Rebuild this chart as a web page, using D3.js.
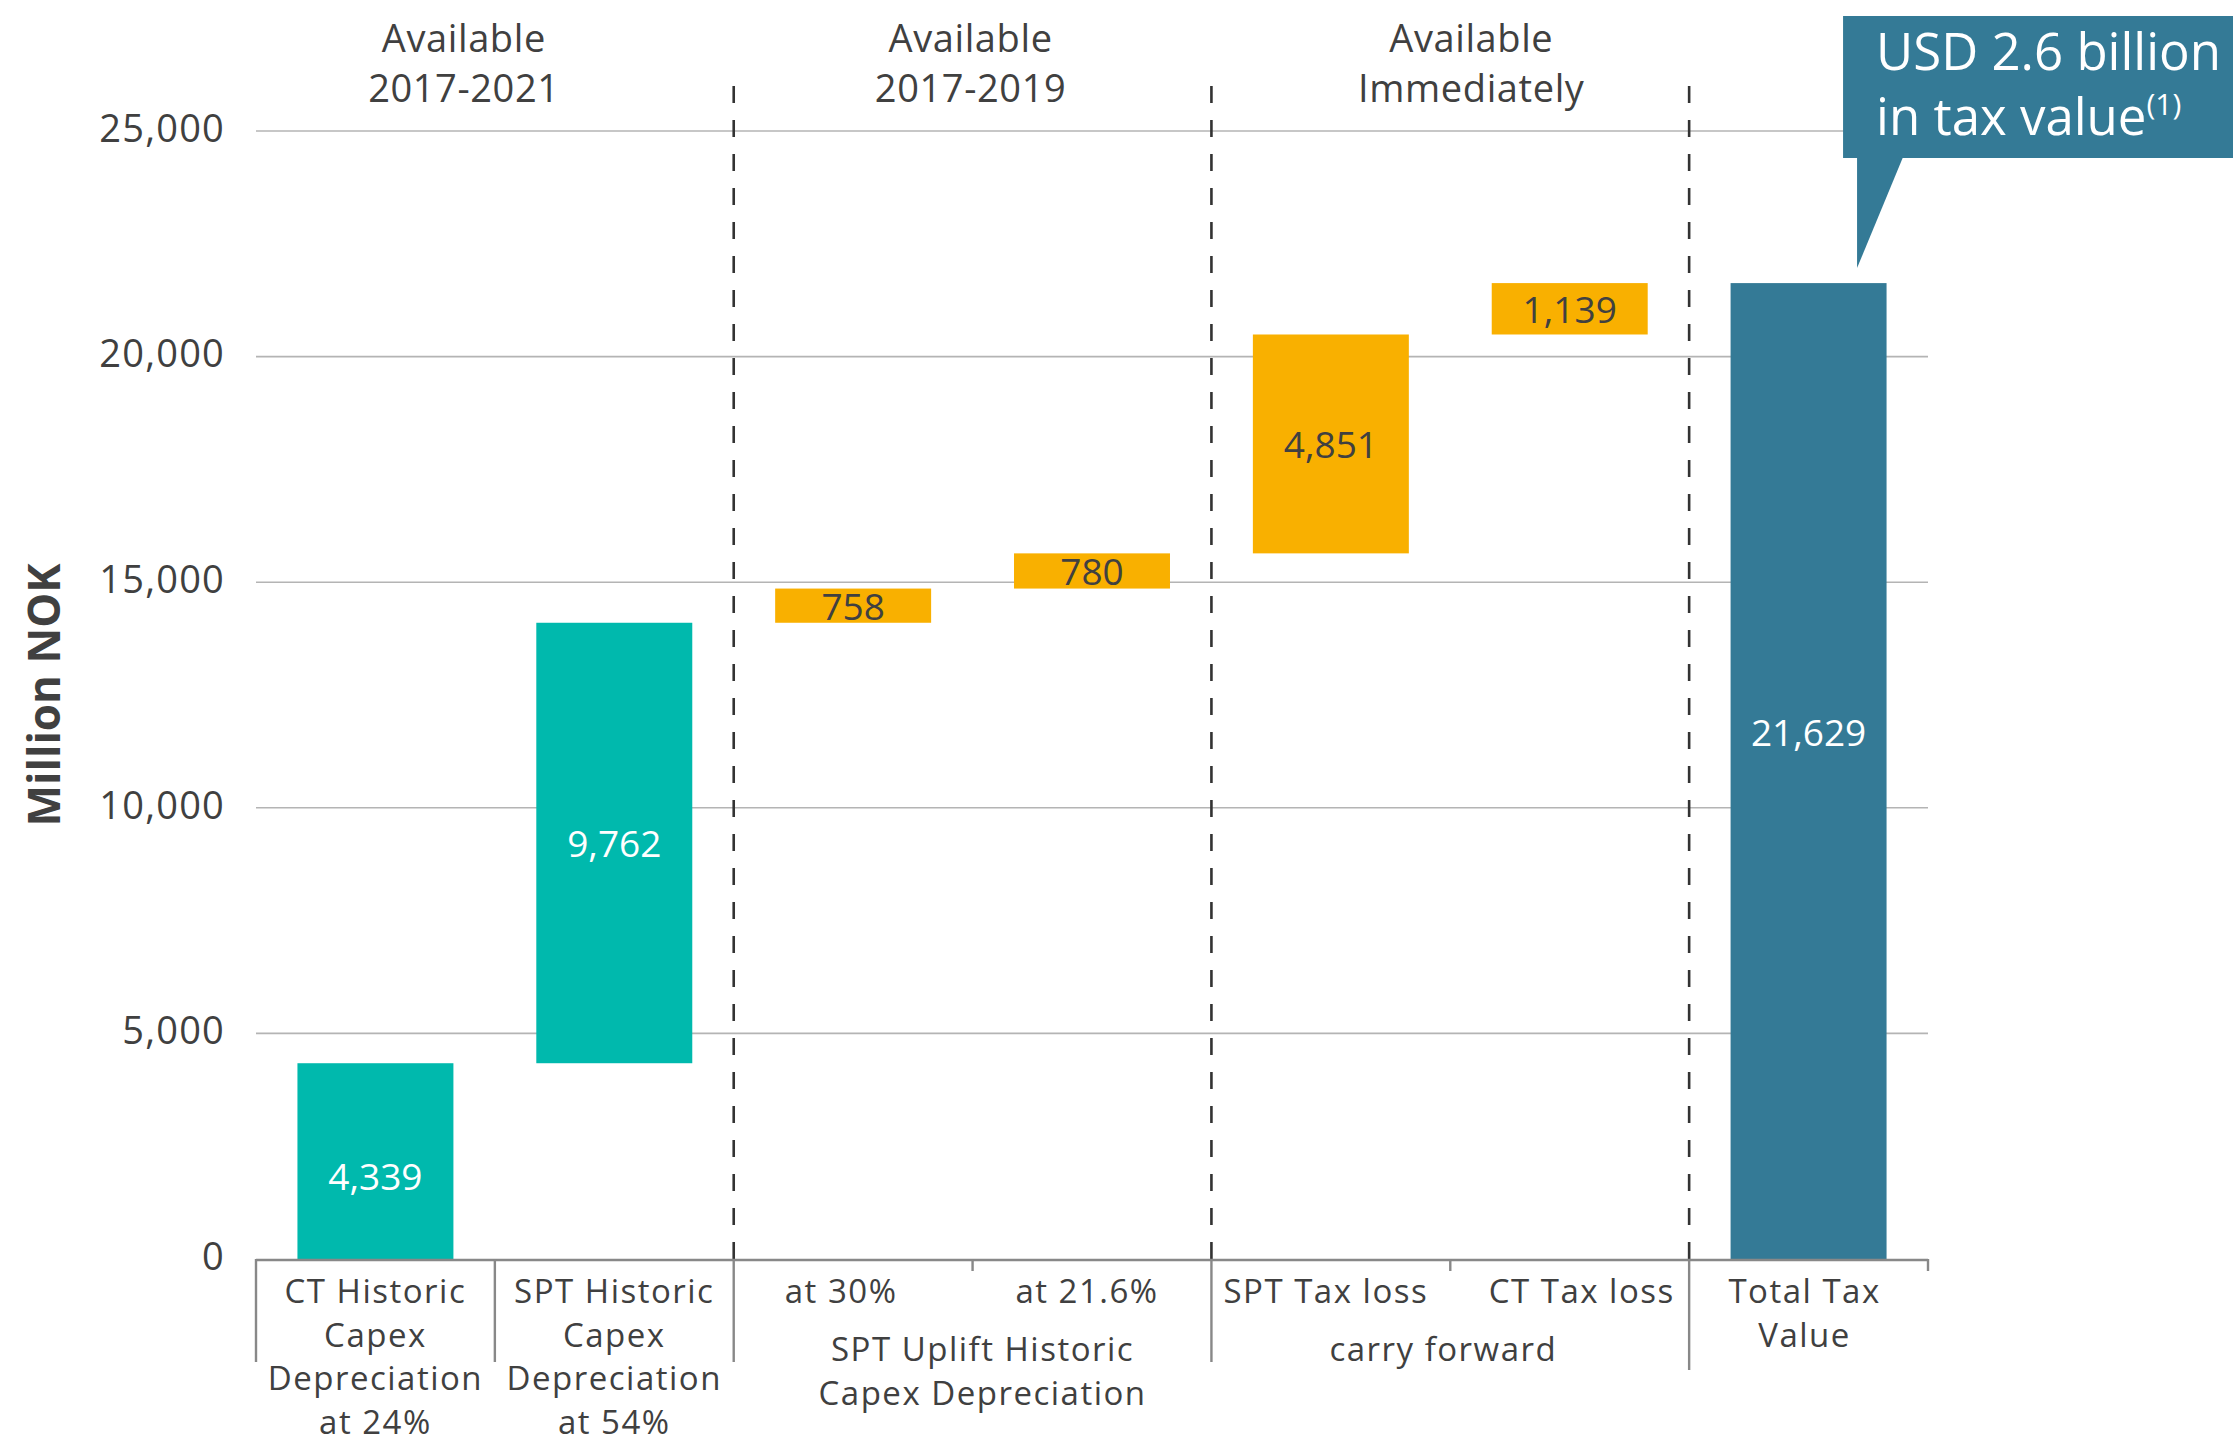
<!DOCTYPE html>
<html>
<head>
<meta charset="utf-8">
<script src="https://cdn.jsdelivr.net/npm/d3@7"></script>
<style>
  html, body { margin: 0; padding: 0; background: #fff; overflow: hidden; }
  svg { display: block; font-family: "Open Sans", sans-serif; }
</style>
</head>
<body>
<svg id="chart" width="2233" height="1442"></svg>
<script>
// Waterfall of tax value components (Million NOK)
const categories = [
  "CT Historic Capex Depreciation at 24%",
  "SPT Historic Capex Depreciation at 54%",
  "SPT Uplift at 30%",
  "SPT Uplift at 21.6%",
  "SPT Tax loss",
  "CT Tax loss",
  "Total Tax Value"
];
const values = [4339, 9762, 758, 780, 4851, 1139, 21629];
const kinds = ["depr", "depr", "short", "short", "short", "short", "total"];
const categoryLines = [
  ["CT Historic", "Capex", "Depreciation", "at 24%"],
  ["SPT Historic", "Capex", "Depreciation", "at 54%"],
  ["at 30%"],
  ["at 21.6%"],
  ["SPT Tax loss"],
  ["CT Tax loss"],
  ["Total Tax", "Value"]
];
const groupFrom = [2, 4];
const groupTo = [3, 5];
const groupLines = [["SPT Uplift Historic", "Capex Depreciation"], ["carry forward"]];
const headerFrom = [0, 2, 4];
const headerTo = [1, 3, 5];
const headerLines = [["Available", "2017-2021"], ["Available", "2017-2019"], ["Available", "Immediately"]];
const yTicks = [0, 5000, 10000, 15000, 20000, 25000];
const yTitle = "Million NOK";
const calloutLines = ["USD 2.6 billion", "in tax value"];
const calloutNote = "(1)";

// layout
const W = 2233, H = 1442;
const plot = { left: 256, right: 1928, top: 131, bottom: 1259 };
const colors = { depr: "#00B9AD", short: "#F9B000", total: "#347A96" };
const textColor = "#404040";

const svg = d3.select("#chart");

const x = d3.scaleBand().domain(categories).range([plot.left, plot.right]).padding(0);
const y = d3.scaleLinear().domain([0, 25000]).range([plot.bottom, plot.top]);
const bw = x.bandwidth();
const barW = bw * 0.653;

// running totals for the waterfall
let run = 0;
const bars = categories.map((c, i) => {
  let y0, y1;
  if (kinds[i] === "total") { y0 = 0; y1 = values[i]; }
  else { y0 = run; y1 = run + values[i]; run = y1; }
  return { cat: c, i, v: values[i], y0, y1, kind: kinds[i] };
});

// gridlines + tick labels
const yAxis = d3.axisLeft(y).tickValues(yTicks).tickSize(0).tickPadding(31)
  .tickFormat(d3.format(","));
const gy = svg.append("g").attr("transform", `translate(${plot.left},0)`).call(yAxis);
gy.attr("font-family", null).attr("font-size", null);
gy.select(".domain").remove();
gy.selectAll("text")
  .attr("fill", textColor)
  .style("font-size", "38px")
  .style("letter-spacing", "1.2px")
  .attr("dy", "0.27em");

svg.append("g").selectAll("line")
  .data(yTicks.filter(d => d > 0))
  .join("line")
  .attr("x1", plot.left).attr("x2", plot.right)
  .attr("y1", d => y(d)).attr("y2", d => y(d))
  .attr("stroke", "#b4b4b4").attr("stroke-width", 1.6);

// y title
svg.append("text")
  .attr("transform", `translate(43,${(plot.top + plot.bottom) / 2}) rotate(-90)`)
  .attr("text-anchor", "middle")
  .attr("dominant-baseline", "central")
  .attr("fill", textColor)
  .style("font-size", "44px")
  .style("font-weight", "700")
  .text(yTitle);

// dashed group separators
const sepIdx = [2, 4, 6];
svg.append("g").selectAll("line")
  .data(sepIdx)
  .join("line")
  .attr("x1", d => x(categories[d])).attr("x2", d => x(categories[d]))
  .attr("y1", plot.bottom).attr("y2", 72)
  .attr("stroke", "#333").attr("stroke-width", 2.6)
  .attr("stroke-dasharray", "17,17");

// bars
svg.append("g").selectAll("rect")
  .data(bars)
  .join("rect")
  .attr("x", d => x(d.cat) + (bw - barW) / 2)
  .attr("width", barW)
  .attr("y", d => y(d.y1))
  .attr("height", d => y(d.y0) - y(d.y1))
  .attr("fill", d => colors[d.kind]);

// value labels
const labelNudge = [14, 0, 0, 0, 0, 0, -40];
svg.append("g").selectAll("text")
  .data(bars)
  .join("text")
  .attr("x", d => x(d.cat) + bw / 2)
  .attr("y", d => (y(d.y0) + y(d.y1)) / 2 + labelNudge[d.i])
  .attr("text-anchor", "middle")
  .attr("dominant-baseline", "central")
  .attr("fill", d => d.kind === "short" ? textColor : "#fff")
  .style("font-size", "37px")
  .text(d => d3.format(",")(d.v));

// x axis baseline and dividers
svg.append("line")
  .attr("x1", plot.left).attr("x2", plot.right)
  .attr("y1", plot.bottom + 1).attr("y2", plot.bottom + 1)
  .attr("stroke", "#888").attr("stroke-width", 2.4);

const dividers = [
  { at: plot.left, len: 103 },
  { at: x(categories[1]), len: 103 },
  { at: x(categories[2]), len: 103 },
  { at: x(categories[3]), len: 12 },
  { at: x(categories[4]), len: 103 },
  { at: x(categories[5]), len: 12 },
  { at: x(categories[6]), len: 111 },
  { at: plot.right, len: 12 }
];
svg.append("g").selectAll("line")
  .data(dividers)
  .join("line")
  .attr("x1", d => d.at).attr("x2", d => d.at)
  .attr("y1", plot.bottom).attr("y2", d => plot.bottom + d.len)
  .attr("stroke", "#888").attr("stroke-width", 2.4);

// category labels
const catShift = [0, 0, -12, -5, -5, 12, -4];
const catG = svg.append("g").attr("fill", textColor)
  .style("font-size", "33px").style("letter-spacing", "1.5px");
categoryLines.forEach((lines, i) => {
  const t = catG.append("text")
    .attr("text-anchor", "middle")
    .attr("x", x(categories[i]) + bw / 2 + catShift[i])
    .attr("y", plot.bottom + 44);
  lines.forEach((ln, k) => {
    t.append("tspan")
      .attr("x", x(categories[i]) + bw / 2 + catShift[i])
      .attr("dy", k === 0 ? 0 : 43.5)
      .text(ln);
  });
});

// group labels under paired categories
const groupShift = [10, -7];
groupLines.forEach((lines, g) => {
  const cx = (x(categories[groupFrom[g]]) + x(categories[groupTo[g]]) + bw) / 2 + groupShift[g];
  const t = catG.append("text")
    .attr("text-anchor", "middle")
    .attr("x", cx)
    .attr("y", plot.bottom + 102);
  lines.forEach((ln, k) => {
    t.append("tspan").attr("x", cx).attr("dy", k === 0 ? 0 : 43.5).text(ln);
  });
});

// availability headers
const headerShift = [-31, -2, 21];
const hG = svg.append("g").attr("fill", textColor).style("font-size", "38px")
  .style("letter-spacing", "0.6px");
headerLines.forEach((lines, h) => {
  const cx = (x(categories[headerFrom[h]]) + x(categories[headerTo[h]]) + bw) / 2 + headerShift[h];
  lines.forEach((ln, k) => {
    hG.append("text")
      .attr("text-anchor", "middle")
      .attr("x", cx)
      .attr("y", 52 + k * 50)
      .text(ln);
  });
});

// callout pointing at the total bar
const tot = bars[bars.length - 1];
const tipX = x(tot.cat) + bw * 0.703;
const tipY = y(tot.y1) - 15;
const box = { x: tipX - 14, y: 16, w: W - (tipX - 14) + 5, h: 142 };
const cg = svg.append("g");
cg.append("rect")
  .attr("x", box.x).attr("y", box.y)
  .attr("width", box.w).attr("height", box.h)
  .attr("fill", colors.total);
cg.append("path")
  .attr("d", `M${tipX},${box.y + box.h - 1} L${tipX + 46},${box.y + box.h - 1} L${tipX},${tipY} Z`)
  .attr("fill", colors.total);
cg.append("text")
  .attr("x", box.x + 33).attr("y", 70)
  .attr("fill", "#fff").style("font-size", "51px")
  .text(calloutLines[0]);
const t2 = cg.append("text")
  .attr("x", box.x + 33).attr("y", 135)
  .attr("fill", "#fff").style("font-size", "51px");
t2.append("tspan").text(calloutLines[1]);
t2.append("tspan").attr("dy", -20).style("font-size", "30px").text(calloutNote);
</script>
</body>
</html>
